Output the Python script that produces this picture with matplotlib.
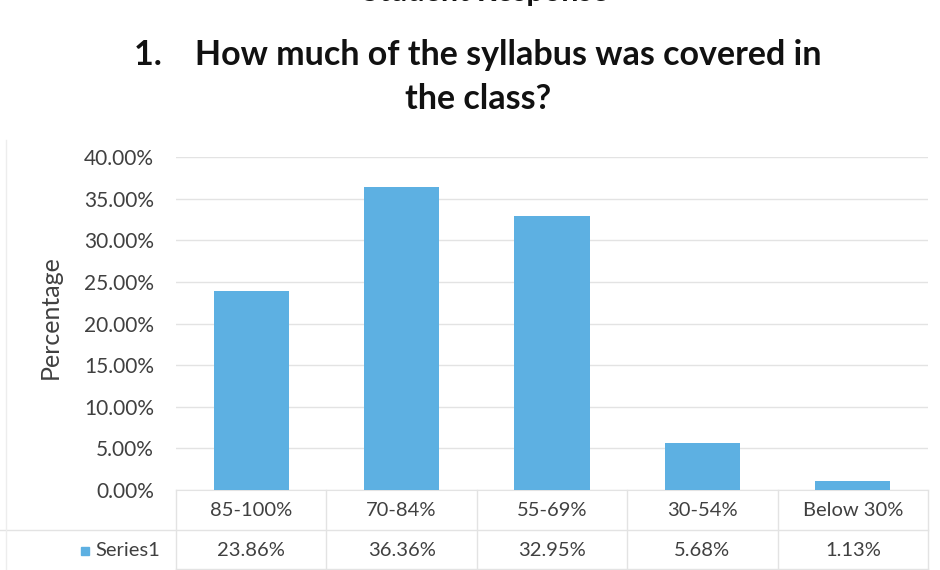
import matplotlib
matplotlib.use("Agg")
import matplotlib.pyplot as plt
from matplotlib.patches import Rectangle
from matplotlib.transforms import blended_transform_factory

categories = ["85-100%", "70-84%", "55-69%", "30-54%", "Below 30%"]
values = [23.86, 36.36, 32.95, 5.68, 1.13]
yticks = [0, 5, 10, 15, 20, 25, 30, 35, 40]
series_name = "Series1"
title = "1.    How much of the syllabus was covered in\nthe class?"
heading = "Student Response"

plt.rcParams["font.family"] = ["Lato", "DejaVu Sans"]

BAR = "#5DB0E2"
GRID = "#E3E3E3"
TXT = "#404040"
FS = 14.5

W, H = 940, 570
fig = plt.figure(figsize=(W / 100, H / 100), dpi=100)
fig.patch.set_facecolor("white")

x0, x1 = 176, 928
y_top, y_bot = 157, 490
ax = fig.add_axes([x0 / W, (H - y_bot) / H, (x1 - x0) / W, (y_bot - y_top) / H])

pos = list(range(len(categories)))
ax.bar(pos, values, width=0.5, color=BAR, zorder=3)
ax.set_xlim(-0.5, len(categories) - 0.5)
ax.set_ylim(0, 40)
ax.set_yticks(yticks)
ax.set_yticklabels([f"{v:.2f}%" for v in yticks], fontsize=15, color=TXT)
ax.tick_params(axis="y", length=0, pad=16)
ax.set_xticks([])
ax.grid(axis="y", color=GRID, linewidth=1, zorder=0)
for s in ["top", "right", "left"]:
    ax.spines[s].set_visible(False)
ax.spines["bottom"].set_color(GRID)
ax.set_ylabel("Percentage", fontsize=18, color=TXT)
ax.yaxis.set_label_coords(-(x0 - 62) / (x1 - x0), 0.52)

# data table under the plot
tr = blended_transform_factory(ax.transData, fig.transFigure)
row1_y = (H - 510) / H
row2_y = (H - 551) / H
for i, (c, v) in enumerate(zip(categories, values)):
    fig.text(i, row1_y, c, transform=tr, ha="center", va="center", fontsize=FS, color=TXT)
    fig.text(i, row2_y, f"{v:.2f}%", transform=tr, ha="center", va="center", fontsize=FS, color=TXT)

line_kw = dict(color=GRID, linewidth=1, transform=fig.transFigure)
fig.add_artist(plt.Line2D([0, x1 / W], [(H - 530) / H] * 2, **line_kw))
fig.add_artist(plt.Line2D([x0 / W, x1 / W], [(H - 569) / H] * 2, **line_kw))
for k in range(len(categories) + 1):
    xb = x0 + k * (x1 - x0) / len(categories)
    fig.add_artist(plt.Line2D([xb / W] * 2, [(H - 569) / H, (H - 490) / H], **line_kw))

# legend key in the table
fig.add_artist(Rectangle((81 / W, (H - 555) / H), 8 / W, 8 / H, color=BAR, transform=fig.transFigure))
fig.text(95 / W, row2_y, series_name, ha="left", va="center", fontsize=FS, color=TXT)

# chart border
fig.add_artist(plt.Line2D([6 / W] * 2, [0, (H - 140) / H], color="#EDEDED", linewidth=1,
                          transform=fig.transFigure))

fig.text(478 / W, (H - 77) / H, title, ha="center", va="center", fontsize=24.5,
         fontweight="bold", color="#111111", linespacing=1.45)
fig.text(485 / W, (H - 1) / H, heading, ha="center", va="baseline", fontsize=22,
         fontweight="bold", color="#111111")

fig.savefig("out.png", dpi=100, facecolor="white")
